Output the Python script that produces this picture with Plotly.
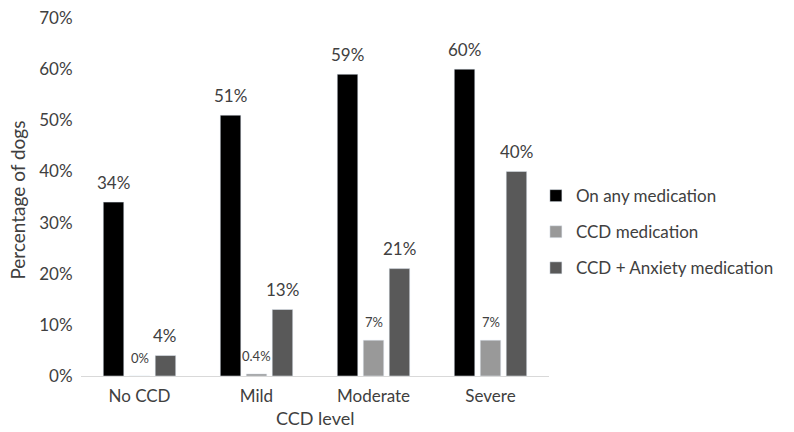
import plotly.graph_objects as go

# CCD severity groups and medication rates (% of dogs)
levels = ["No CCD", "Mild", "Moderate", "Severe"]
any_med = [34, 51, 59, 60]
ccd_med = [0, 0.4, 7, 7]
ccd_anx_med = [4, 13, 21, 40]

any_labels = ["34%", "51%", "59%", "60%"]
ccd_labels = ["0%", "0.4%", "7%", "7%"]
ccd_anx_labels = ["4%", "13%", "21%", "40%"]

FONT = "Lato, 'Open Sans', sans-serif"
TXT = "#404040"

W, H = 794, 432
ML, MR, MT, MB = 81, 245, 18, 56

series = [
    ("On any medication", any_med, any_labels, "#000000", 17),
    ("CCD medication", ccd_med, ccd_labels, "#999999", 13),
    ("CCD + Anxiety medication", ccd_anx_med, ccd_anx_labels, "#595959", 17),
]

fig = go.Figure()
for i, (name, vals, labels, color, _) in enumerate(series):
    fig.add_trace(go.Bar(
        name=name, x=levels, y=vals, marker_color=color,
        legendgroup=str(i),
    ))

# value labels above each bar, offset to the bar's slot in the group
BARGAP, GROUPGAP = 0.334, 0.21
slot_px = (W - ML - MR) / len(levels) * (1 - BARGAP) / len(series)
for i, (name, vals, labels, color, fsize) in enumerate(series):
    xshift = (i - 1) * slot_px
    for lvl, v, lab in zip(levels, vals, labels):
        fig.add_annotation(
            x=lvl, y=v, text=lab, showarrow=False,
            xshift=xshift, yshift=20 if fsize > 15 else 18,
            yanchor="middle", font=dict(size=fsize, color=TXT),
        )

# axis titles
fig.add_annotation(
    text="CCD level", xref="paper", yref="paper", x=0.5, y=-0.118,
    yanchor="middle", showarrow=False, font=dict(size=18, color=TXT),
)
fig.add_annotation(
    text="Percentage of dogs", xref="paper", yref="paper", x=-0.1346, y=0.49,
    xanchor="center", yanchor="middle", textangle=-90, showarrow=False,
    font=dict(size=19, color=TXT),
)

fig.update_layout(
    width=W, height=H,
    margin=dict(l=ML, r=MR, t=MT, b=MB, autoexpand=False),
    paper_bgcolor="white", plot_bgcolor="white",
    font=dict(family=FONT, color=TXT, size=17),
    barmode="group", bargap=BARGAP, bargroupgap=GROUPGAP,
    showlegend=True,
    legend=dict(
        x=0.972, xanchor="left", y=0.402, yanchor="middle",
        font=dict(size=17, color=TXT), tracegroupgap=11,
        itemwidth=30, bgcolor="rgba(0,0,0,0)",
    ),
    xaxis=dict(
        automargin=False,
        showline=True, linecolor="#d9d9d9", linewidth=1,
        ticks="outside", ticklen=5, tickcolor="rgba(0,0,0,0)",
        tickfont=dict(size=17, color=TXT), showgrid=False,
    ),
    yaxis=dict(
        automargin=False,
        range=[0, 70], dtick=10, ticksuffix="%",
        showgrid=False, zeroline=False, showline=False,
        ticks="outside", ticklen=4, tickcolor="rgba(0,0,0,0)",
        tickfont=dict(size=17, color=TXT),
    ),
)

fig.write_html("out.html")
